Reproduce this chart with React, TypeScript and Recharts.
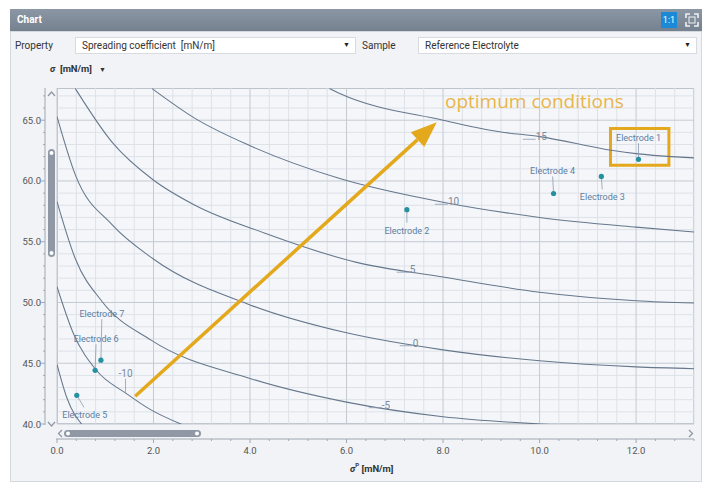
import React from 'react'
import {
  ComposedChart,
  Line,
  Scatter,
  XAxis,
  YAxis,
  CartesianGrid,
  ReferenceLine,
  ReferenceArea,
  ReferenceDot,
} from 'recharts'

// spreading coefficient iso-lines (x = sigma^p, y = sigma)
const CURVE_15 = [
  { x: 5.65, y: 67.6 }, { x: 5.86, y: 67.2 }, { x: 8.0, y: 65.0 }, { x: 9.17, y: 64.05 },
  { x: 10.0, y: 63.65 }, { x: 11.52, y: 62.5 }, { x: 12.0, y: 62.25 }, { x: 13.2, y: 61.9 },
]
const CURVE_10 = [
  { x: 1.97, y: 67.6 }, { x: 2.86, y: 65.15 }, { x: 4.0, y: 62.9 }, { x: 5.86, y: 60.2 },
  { x: 8.0, y: 58.25 }, { x: 10.0, y: 57.0 }, { x: 12.0, y: 56.2 }, { x: 13.2, y: 55.8 },
]
const CURVE_5 = [
  { x: 0.38, y: 67.6 }, { x: 1.14, y: 63.2 }, { x: 1.99, y: 60.1 }, { x: 2.86, y: 58.0 },
  { x: 4.31, y: 55.7 }, { x: 6.21, y: 53.3 }, { x: 8.0, y: 52.1 }, { x: 10.0, y: 50.85 },
  { x: 12.0, y: 50.15 }, { x: 13.2, y: 49.95 },
]
const CURVE_0 = [
  { x: 0, y: 65.3 }, { x: 0.38, y: 60.5 }, { x: 1.14, y: 56.4 }, { x: 1.99, y: 53.6 },
  { x: 4.0, y: 49.8 }, { x: 6.0, y: 47.5 }, { x: 8.0, y: 46.1 }, { x: 10.0, y: 45.2 },
  { x: 12.0, y: 44.7 }, { x: 13.2, y: 44.55 },
]
const CURVE_M5 = [
  { x: 0, y: 58.3 }, { x: 0.38, y: 53.6 }, { x: 0.93, y: 50.1 }, { x: 1.95, y: 46.9 },
  { x: 4.0, y: 43.75 }, { x: 6.0, y: 41.8 }, { x: 8.0, y: 40.6 }, { x: 10.0, y: 40.0 },
  { x: 11.0, y: 39.8 },
]
const CURVE_M10 = [
  { x: 0, y: 51.3 }, { x: 0.34, y: 47.45 }, { x: 0.82, y: 44.4 }, { x: 1.44, y: 42.5 },
  { x: 1.93, y: 41.2 }, { x: 2.69, y: 39.8 },
]
const CURVE_M15 = [{ x: 0, y: 44.9 }, { x: 0.2, y: 42.2 }, { x: 0.55, y: 39.8 }]

const CURVES = [CURVE_15, CURVE_10, CURVE_5, CURVE_0, CURVE_M5, CURVE_M10, CURVE_M15]

const CURVE_LABELS = [
  { text: '15', x: 9.92, y: 63.35 },
  { text: '10', x: 8.1, y: 58.0 },
  { text: '5', x: 7.31, y: 52.41 },
  { text: '0', x: 7.37, y: 46.36 },
  { text: '-5', x: 6.73, y: 41.26 },
  { text: '-10', x: 1.42, y: 43.89 },
]

const ELECTRODES = [
  { name: 'Electrode 1', x: 12.05, y: 61.78 },
  { name: 'Electrode 2', x: 7.25, y: 57.64 },
  { name: 'Electrode 3', x: 11.28, y: 60.37 },
  { name: 'Electrode 4', x: 10.29, y: 58.97 },
  { name: 'Electrode 5', x: 0.41, y: 42.36 },
  { name: 'Electrode 6', x: 0.79, y: 44.42 },
  { name: 'Electrode 7', x: 0.91, y: 45.25 },
]

// label placement (px from the point)
const LABEL_OFFSET: Record<string, [number, number]> = {
  'Electrode 1': [0, -21],
  'Electrode 2': [0, 21],
  'Electrode 3': [1, 21],
  'Electrode 4': [-1, -22],
  'Electrode 5': [8, 20],
  'Electrode 6': [1, -31],
  'Electrode 7': [1, -46],
}

const ARROW = [{ x: 1.62, y: 42.28 }, { x: 7.87, y: 64.84 }]
const BOX = { x1: 11.47, x2: 12.68, y1: 61.3, y2: 64.32 }
const NOTE = { text: 'optimum conditions', x: 8.04, y: 65.99 }

const X_DOMAIN = [0, 13.2]
const Y_DOMAIN = [40, 67.65]
const X_MAJOR = [0, 2, 4, 6, 8, 10, 12]
const Y_MAJOR = [40, 45, 50, 55, 60, 65]

const steps = (from: number, to: number, by: number) =>
  Array.from({ length: Math.round((to - from) / by) + 1 }, (_, i) => +(from + i * by).toFixed(2))
const X_TICKS = steps(0, 13.2, 0.4)
const Y_TICKS = steps(40, 67, 1)

const ORANGE = '#e4a81c'
const CURVE_COLOR = '#66778c'
const FONT = 'Roboto, "Noto Sans", sans-serif'

const isMajor = (v: number, list: number[]) => list.some((m) => Math.abs(m - v) < 1e-6)

function XTick({ x, y, payload }: any) {
  const v = payload.value
  const major = isMajor(v, X_MAJOR)
  return (
    <g>
      <line x1={x} x2={x} y1={y + 15} y2={y + (major ? 19 : 17)} stroke="#a0a8b2" />
      {major && (
        <text x={x} y={y + 30} textAnchor="middle" fontSize={9.5} fill="#555" fontFamily={FONT}>
          {v.toFixed(1)}
        </text>
      )}
    </g>
  )
}

function YTick({ x, y, payload }: any) {
  const v = payload.value
  const major = isMajor(v, Y_MAJOR)
  return (
    <g>
      <line x1={x - 12} x2={x - (major ? 16 : 14)} y1={y} y2={y} stroke="#a0a8b2" />
      {major && (
        <text x={x - 16} y={y + 3.5} textAnchor="end" fontSize={9.5} fill="#555" fontFamily={FONT}>
          {v.toFixed(1)}
        </text>
      )}
    </g>
  )
}

function ElectrodeMark({ cx, cy, payload }: any) {
  const [dx, dy] = LABEL_OFFSET[payload.name] || [0, -20]
  const ty = cy + dy
  const end = dy < 0 ? ty + 5 : ty - 8
  return (
    <g>
      <line x1={cx} y1={cy} x2={cx + dx * 0.9} y2={end} stroke="#8b9bb0" strokeWidth={0.8} />
      <circle cx={cx} cy={cy} r={2.6} fill="#25909f" />
      <text x={cx + dx} y={ty + 3} textAnchor="middle" fontSize={9} fill="#5b7ea3" fontFamily={FONT}>
        {payload.name}
      </text>
    </g>
  )
}

function CurveLabel(text: string, vertical: boolean) {
  return ({ cx, cy }: any) =>
    vertical ? (
      <g>
        <line x1={cx} y1={cy + 2} x2={cx} y2={cy + 17} stroke="#8b9bb0" strokeWidth={0.8} />
        <text x={cx} y={cy} textAnchor="middle" fontSize={10} fill="#7a8a9c" fontFamily={FONT}>
          {text}
        </text>
      </g>
    ) : (
      <g>
        <line x1={cx - 13} y1={cy - 1} x2={cx} y2={cy - 1} stroke="#8b9bb0" strokeWidth={0.8} />
        <text x={cx} y={cy} fontSize={10} fill="#7a8a9c" fontFamily={FONT}>
          {text}
        </text>
      </g>
    )
}

function Arrow({ x1, y1, x2, y2 }: any) {
  const a = Math.atan2(y2 - y1, x2 - x1)
  const len = 26
  const half = 10
  const bx = x2 - len * Math.cos(a)
  const by = y2 - len * Math.sin(a)
  const px = -Math.sin(a) * half
  const py = Math.cos(a) * half
  return (
    <g>
      <line x1={x1} y1={y1} x2={bx} y2={by} stroke={ORANGE} strokeWidth={3.5} />
      <polygon points={`${x2},${y2} ${bx + px},${by + py} ${bx - px},${by - py}`} fill={ORANGE} />
    </g>
  )
}

function Note({ cx, cy }: any) {
  return (
    <text x={cx} y={cy} fontSize={19} fill="#e9b54a" fontFamily='"Open Sans", sans-serif'>
      {NOTE.text}
    </text>
  )
}

const abs = (l: number, t: number, w: number, h: number, extra: React.CSSProperties = {}) =>
  ({ position: 'absolute', left: l, top: t, width: w, height: h, ...extra } as React.CSSProperties)

function Select({ left, width, text }: { left: number; width: number; text: string }) {
  return (
    <div style={abs(left, 37, width, 17, { background: '#fff', border: '1px solid #d8dbe0', boxSizing: 'border-box' })}>
      <span style={{ position: 'absolute', left: 6, top: 2, fontSize: 10, color: '#333', whiteSpace: 'pre' }}>{text}</span>
      <span style={{ position: 'absolute', right: 5, top: 3, fontSize: 7, color: '#222' }}>▼</span>
    </div>
  )
}

export default function App() {
  return (
    <div style={{ position: 'absolute', left: 0, top: 0, width: 717, height: 489, background: '#fff', fontFamily: FONT }}>
      {/* panel */}
      <div style={abs(10, 31, 692, 451, { background: '#f1f3f6', border: '1px solid #d5d9de', boxSizing: 'border-box' })} />
      <div style={abs(10, 9, 692, 22, { background: 'linear-gradient(#8c97a6, #76818f)' })}>
        <span style={{ position: 'absolute', left: 7, top: 5, fontSize: 10, fontWeight: 700, color: '#fff' }}>Chart</span>
        <div style={abs(651, 3, 16, 16, { background: '#1b8ad6', color: '#fff', fontSize: 9, textAlign: 'center', lineHeight: '16px' })}>1:1</div>
        <svg width={16} height={16} style={abs(674, 3, 16, 16)}>
          <path d="M2 6 V2 H6 M10 2 H14 V6 M14 10 V14 H10 M6 14 H2 V10" stroke="#eef1f4" strokeWidth={1.6} fill="none" />
          <rect x={5} y={5} width={6} height={6} fill="none" stroke="#eef1f4" strokeWidth={1} />
        </svg>
      </div>
      <span style={{ position: 'absolute', left: 15, top: 40, fontSize: 10, color: '#333' }}>Property</span>
      <Select left={75} width={281} text="Spreading coefficient  [mN/m]" />
      <span style={{ position: 'absolute', left: 362, top: 40, fontSize: 10, color: '#333' }}>Sample</span>
      <Select left={418} width={279} text="Reference Electrolyte" />
      <span style={{ position: 'absolute', left: 50, top: 63, fontSize: 9.5, fontWeight: 700, color: '#333', whiteSpace: 'pre' }}>
        <i>σ</i>  [mN/m]   <span style={{ fontSize: 7 }}>▼</span>
      </span>

      {/* plot background */}
      <div style={abs(57, 88, 637, 336, { background: '#f4f6f9', border: '1px solid #bcc3cb', boxSizing: 'border-box' })} />

      <div style={abs(0, 0, 717, 489)}>
        <ComposedChart width={717} height={489} margin={{ top: 88, right: 23, bottom: 35, left: 0 }}>
          <CartesianGrid
            verticalValues={X_TICKS.filter((v) => !isMajor(v, X_MAJOR))}
            horizontalValues={Y_TICKS.filter((v) => !isMajor(v, Y_MAJOR))}
            stroke="#dde2e8"
            fill="none"
          />
          <CartesianGrid verticalValues={X_MAJOR} horizontalValues={Y_MAJOR} stroke="#c4cad2" fill="none" />
          <XAxis
            type="number"
            dataKey="x"
            domain={X_DOMAIN}
            ticks={X_TICKS}
            interval={0}
            height={30}
            tickSize={0}
            tickMargin={0}
            axisLine={false}
            tickLine={false}
            tick={<XTick />}
            allowDataOverflow
          />
          <YAxis
            type="number"
            dataKey="y"
            domain={Y_DOMAIN}
            ticks={Y_TICKS}
            interval={0}
            width={57}
            tickSize={0}
            tickMargin={0}
            axisLine={false}
            tickLine={false}
            tick={<YTick />}
            allowDataOverflow
          />
          {CURVES.map((c, i) => (
            <Line
              key={i}
              data={c}
              dataKey="y"
              type="monotone"
              stroke={CURVE_COLOR}
              strokeWidth={1.05}
              dot={false}
              activeDot={false}
              isAnimationActive={false}
            />
          ))}
          {CURVE_LABELS.map((l) => (
            <ReferenceDot key={l.text} x={l.x} y={l.y} r={0} shape={CurveLabel(l.text, l.text === '-10')} />
          ))}
          <Scatter data={ELECTRODES} dataKey="y" shape={<ElectrodeMark />} isAnimationActive={false} />
          <ReferenceArea {...BOX} fill="none" fillOpacity={0} stroke={ORANGE} strokeWidth={3} />
          <ReferenceLine segment={ARROW} shape={Arrow} />
          <ReferenceDot x={NOTE.x} y={NOTE.y} r={0} shape={Note} />
        </ComposedChart>
      </div>

      {/* axis lines and scroll bars */}
      <svg width={717} height={489} style={abs(0, 0, 717, 489, { pointerEvents: 'none' })}>
        <line x1={45} y1={88} x2={45} y2={425} stroke="#a0a8b2" />
        <line x1={56} y1={439} x2={694} y2={439} stroke="#a0a8b2" />
        <rect x={48} y={149} width={7} height={108} rx={3.5} fill="#8f98a4" />
        <circle cx={51.5} cy={153} r={2} fill="#fff" />
        <circle cx={51.5} cy={253} r={2} fill="#fff" />
        <path d="M48 96 L51.5 92 L55 96" stroke="#8f98a4" strokeWidth={1.3} fill="none" />
        <path d="M48 422 L51.5 426 L55 422" stroke="#8f98a4" strokeWidth={1.3} fill="none" />
        <rect x={64} y={430} width={137} height={7} rx={3.5} fill="#8f98a4" />
        <circle cx={68} cy={433.5} r={2} fill="#fff" />
        <circle cx={197} cy={433.5} r={2} fill="#fff" />
        <path d="M62 430 L58.5 433.5 L62 437" stroke="#8f98a4" strokeWidth={1.3} fill="none" />
        <path d="M689 430 L692.5 433.5 L689 437" stroke="#8f98a4" strokeWidth={1.3} fill="none" />
        <text x={350} y={472} fontSize={9.5} fontWeight={700} fill="#333" fontFamily={FONT}>
          <tspan fontStyle="italic">σ</tspan>
          <tspan dy={-5} fontSize={6}>P</tspan>
          <tspan dy={5}>  [mN/m]</tspan>
        </text>
      </svg>
    </div>
  )
}
